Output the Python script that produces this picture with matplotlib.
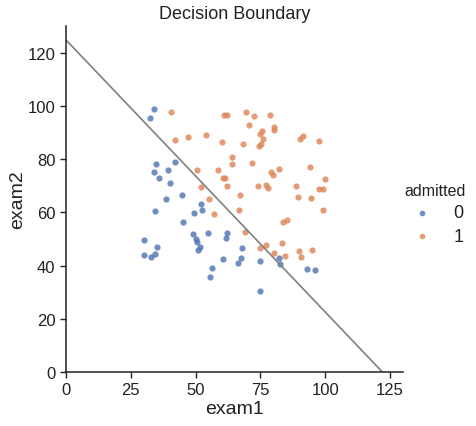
import matplotlib
matplotlib.use("Agg")
import matplotlib.pyplot as plt
import numpy as np

exam1 = [34.62,30.29,35.85,60.18,79.03,45.08,61.11,75.02,76.10,84.43,95.86,75.01,82.31,69.36,39.54,53.97,69.07,67.95,70.66,76.98,
         67.37,89.68,50.53,34.21,77.92,62.27,80.19,93.11,61.83,38.79,61.38,85.40,52.11,52.05,40.24,54.64,33.92,64.18,74.79,34.18,
         83.90,51.55,94.44,82.37,51.05,62.22,77.19,97.77,62.07,91.56,79.94,99.27,90.55,34.52,50.29,49.59,97.65,32.58,74.25,71.80,
         75.40,35.29,56.25,30.06,44.67,66.56,40.46,49.07,80.28,66.75,32.72,64.04,72.35,60.46,58.84,99.83,47.26,50.46,60.46,82.23,
         88.91,94.83,67.32,57.24,80.37,68.47,42.08,75.48,78.64,52.35,94.09,90.45,55.48,74.49,89.85,83.49,42.26,99.32,55.34,74.78]
exam2 = [78.02,43.89,72.90,86.31,75.34,56.32,96.51,46.55,87.42,43.53,38.23,30.60,76.48,97.72,76.04,89.21,52.74,46.68,92.93,47.58,
         42.84,65.80,48.86,44.21,68.97,69.95,44.82,38.80,50.26,65.00,72.81,57.05,63.13,69.43,71.17,52.21,98.87,80.91,41.57,75.24,
         56.31,46.86,65.57,40.62,45.82,52.06,70.46,86.73,96.77,88.70,74.16,61.00,43.39,60.40,49.80,59.81,68.86,95.60,69.82,78.45,
         85.76,47.02,39.26,49.59,66.45,41.09,97.54,51.88,92.12,60.99,43.31,78.03,96.23,73.09,75.86,72.37,88.48,75.81,42.51,42.72,
         69.80,45.69,66.59,59.51,90.96,85.59,78.84,90.42,96.65,60.77,77.16,87.51,35.57,84.85,45.36,48.38,87.10,68.78,64.93,89.53]
admitted = [0,0,0,1,1,0,1,1,1,1,0,0,1,1,0,1,1,0,1,1,
            0,1,0,0,1,1,1,0,0,0,1,1,0,1,0,0,0,1,0,0,
            1,0,1,0,0,0,1,1,1,1,1,1,1,0,0,0,1,0,1,1,
            1,0,0,0,0,0,1,0,1,1,0,1,1,1,1,1,1,1,0,0,
            1,1,1,1,1,1,0,1,1,0,1,1,0,1,1,1,1,1,1,1]
theta = [-25.16, 0.2062, 0.2015]
x_tick_labels = ["0", "25", "50", "75", "100", "125"]
y_tick_labels = ["0", "20", "40", "60", "80", "100", "120"]

plt.rcParams['font.family'] = ['Liberation Sans', 'DejaVu Sans']

e1 = np.array(exam1); e2 = np.array(exam2); ad = np.array(admitted)
fig = plt.figure(figsize=(4.77, 4.27), dpi=100)
ax = fig.add_axes([0.138, 0.1265, 0.707, 0.81])
colors = {0: '#4C72B0', 1: '#DD8452'}
handles = []
for k in (0, 1):
    m = ad == k
    h = ax.scatter(e1[m], e2[m], s=20, color=colors[k], alpha=0.8, linewidths=0, label=str(k))
    handles.append(h)

xl = np.arange(0, 130)
yl = -(theta[0] + theta[1] * xl) / theta[2]
ax.plot(xl, yl, color='grey', lw=1.2)

ax.set_xlim(0, 130)
ax.set_ylim(0, 130)
ax.set_xticks([int(t) for t in x_tick_labels])
ax.set_xticklabels(x_tick_labels)
ax.set_yticks([int(t) for t in y_tick_labels])
ax.set_yticklabels(y_tick_labels)
ax.tick_params(labelsize=12, length=4, width=1, color='#222222', labelcolor='#222222')
for s in ('top', 'right'):
    ax.spines[s].set_visible(False)
for s in ('left', 'bottom'):
    ax.spines[s].set_linewidth(1.1)
    ax.spines[s].set_color('#222222')
ax.set_xlabel('exam1', fontsize=14, color='#222222', labelpad=2)
ax.set_ylabel('exam2', fontsize=14, color='#222222', labelpad=1)
ax.set_title('Decision Boundary', fontsize=13, color='#222222', pad=6)

leg = fig.legend(handles=handles, labels=['0', '1'], title='admitted', loc='upper left',
                 bbox_to_anchor=(0.847, 0.569), frameon=False, fontsize=13, title_fontsize=11.5,
                 markerscale=0.9, handletextpad=0.75, labelspacing=0.35, borderpad=0,
                 borderaxespad=0, handlelength=2.0, alignment='left')
leg.get_title().set_color('#222222')
for t in leg.get_texts():
    t.set_color('#222222')
fig.savefig('out.png', dpi=100)
